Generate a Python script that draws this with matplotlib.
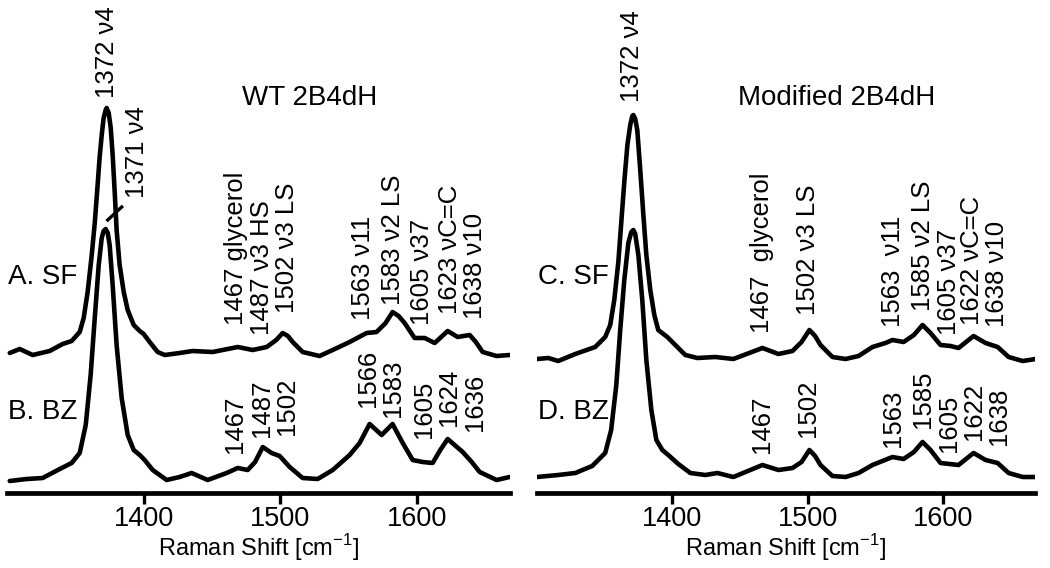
import matplotlib
matplotlib.use("Agg")
import matplotlib.pyplot as plt

plt.rcParams["font.family"] = ["Liberation Sans", "DejaVu Sans"]
plt.rcParams["mathtext.fontset"] = "custom"
plt.rcParams["mathtext.rm"] = "Liberation Sans"

# traced spectra: Raman shift (cm-1) and intensity (a.u., baseline ~0)
wt_sf_shift = [1302.0, 1309.3, 1318.8, 1331.2, 1340.7, 1347.3, 1353.2, 1356.1, 1359.0, 1362.0,
               1364.2, 1366.3, 1367.8, 1369.3, 1370.7, 1372.2, 1372.9, 1374.4, 1375.9, 1377.3,
               1378.8, 1380.2, 1382.4, 1385.4, 1388.3, 1392.7, 1397.1, 1400.0, 1404.4, 1410.2,
               1415.4, 1426.3, 1435.8, 1450.5, 1468.8, 1479.7, 1490.0, 1497.0, 1501.7, 1505.5,
               1509.0, 1516.3, 1528.7, 1538.3, 1550.7, 1563.1, 1570.4, 1577.0, 1582.1, 1586.5,
               1590.9, 1598.2, 1605.6, 1612.9, 1622.4, 1629.7, 1638.5, 1643.0, 1648.0, 1658.2,
               1667.7]
wt_sf_int = [0.02, 0.06, 0.00, 0.04, 0.11, 0.14, 0.23, 0.37, 0.63, 1.00,
             1.32, 1.70, 1.98, 2.20, 2.37, 2.45, 2.47, 2.42, 2.27, 2.00,
             1.63, 1.25, 0.90, 0.63, 0.45, 0.30, 0.24, 0.21, 0.13, 0.03,
             0.00, 0.02, 0.04, 0.03, 0.08, 0.05, 0.08, 0.15, 0.22, 0.19,
             0.13, 0.03, -0.01, 0.05, 0.13, 0.22, 0.23, 0.32, 0.43, 0.39,
             0.32, 0.17, 0.17, 0.12, 0.24, 0.18, 0.20, 0.13, 0.03, -0.01,
             0.00]

wt_bz_shift = [1302.0, 1314.4, 1326.1, 1338.6, 1347.3, 1353.2, 1357.6, 1361.2, 1364.2, 1367.1,
               1369.3, 1370.7, 1372.2, 1373.7, 1375.1, 1377.3, 1380.2, 1383.9, 1388.3, 1392.7,
               1397.1, 1400.7, 1406.6, 1416.8, 1426.3, 1435.1, 1446.8, 1460.7, 1468.8, 1476.1,
               1481.5, 1487.1, 1493.6, 1499.5, 1506.8, 1516.3, 1527.3, 1538.3, 1550.7, 1558.0,
               1565.3, 1574.1, 1582.1, 1589.5, 1596.8, 1604.1, 1611.4, 1617.0, 1622.4, 1633.4,
               1640.0, 1645.8, 1658.2, 1667.7]
wt_bz_int = [-0.01, 0.01, 0.02, 0.11, 0.17, 0.27, 0.55, 1.05, 1.62, 2.15,
             2.42, 2.49, 2.51, 2.47, 2.35, 1.95, 1.35, 0.82, 0.45, 0.30,
             0.25, 0.20, 0.10, 0.00, 0.03, 0.07, 0.00, 0.07, 0.12, 0.10,
             0.18, 0.33, 0.27, 0.24, 0.13, 0.02, 0.01, 0.10, 0.25, 0.37,
             0.56, 0.45, 0.56, 0.37, 0.20, 0.18, 0.17, 0.30, 0.41, 0.28,
             0.18, 0.08, 0.00, 0.03]

mod_sf_shift = [1300.1, 1308.3, 1315.7, 1328.3, 1343.0, 1350.4, 1354.1, 1357.1, 1360.1, 1362.3,
                1364.5, 1366.8, 1368.9, 1370.4, 1371.2, 1372.6, 1374.1, 1376.3, 1378.6, 1380.8,
                1383.7, 1386.7, 1389.6, 1396.3, 1402.2, 1409.6, 1418.5, 1431.8, 1445.1, 1466.6,
                1478.4, 1488.8, 1495.5, 1501.3, 1505.5, 1509.5, 1518.3, 1528.0, 1537.6, 1547.9,
                1557.5, 1562.7, 1570.9, 1578.5, 1584.9, 1590.8, 1598.2, 1605.6, 1611.5, 1622.6,
                1631.5, 1640.4, 1648.5, 1658.9, 1668.5]
mod_sf_int = [-0.04, -0.03, -0.06, 0.01, 0.08, 0.18, 0.30, 0.55, 0.93, 1.33,
              1.73, 2.10, 2.30, 2.39, 2.40, 2.36, 2.25, 1.85, 1.40, 1.00,
              0.65, 0.40, 0.25, 0.18, 0.10, 0.00, -0.03, -0.02, -0.04, 0.07,
              0.01, 0.04, 0.13, 0.25, 0.19, 0.10, -0.02, -0.04, -0.01, 0.08,
              0.12, 0.15, 0.13, 0.20, 0.30, 0.22, 0.10, 0.09, 0.07, 0.19,
              0.12, 0.08, -0.02, -0.06, -0.04]

mod_bz_shift = [1300.1, 1315.7, 1328.3, 1340.8, 1350.4, 1354.8, 1358.6, 1361.5, 1364.5, 1367.5,
                1369.7, 1371.2, 1372.6, 1374.9, 1377.8, 1380.8, 1384.5, 1388.2, 1392.6, 1397.0,
                1404.4, 1413.3, 1424.4, 1433.3, 1445.1, 1466.6, 1478.4, 1488.8, 1495.5, 1501.3,
                1505.5, 1509.5, 1518.3, 1528.0, 1537.6, 1547.9, 1562.7, 1570.9, 1578.5, 1584.9,
                1590.8, 1598.2, 1611.5, 1622.6, 1631.5, 1640.4, 1648.5, 1658.9, 1668.5]
mod_bz_int = [0.03, 0.05, 0.07, 0.14, 0.27, 0.50, 0.95, 1.50, 2.00, 2.37,
              2.48, 2.50, 2.46, 2.25, 1.80, 1.20, 0.70, 0.40, 0.30, 0.25,
              0.16, 0.07, 0.05, 0.07, 0.03, 0.15, 0.10, 0.12, 0.18, 0.30,
              0.24, 0.15, 0.04, 0.03, 0.07, 0.15, 0.23, 0.21, 0.28, 0.38,
              0.30, 0.17, 0.15, 0.27, 0.20, 0.17, 0.07, 0.03, 0.03]

# peak annotations: text and the shift they sit above
wt_sf_labels = ["1467 glycerol", "1487 \u03bd3 HS", "1502 \u03bd3 LS", "1563 \u03bd11",
                "1583 \u03bd2 LS", "1605 \u03bd37", "1623 \u03bdC=C", "1638 \u03bd10"]
wt_sf_label_x = [1467.3, 1486.3, 1504.6, 1560.2, 1582.1, 1603.4, 1623.8, 1642.1]
wt_bz_labels = ["1467", "1487", "1502", "1566", "1583", "1605", "1624", "1636"]
wt_bz_label_x = [1466.6, 1486.3, 1504.6, 1563.9, 1582.1, 1604.8, 1623.1, 1642.1]

mod_sf_labels = ["1467  glycerol", "1502 \u03bd3 LS", "1563  \u03bd11", "1585 \u03bd2 LS",
                 "1605 \u03bd37", "1622 \u03bdC=C", "1638 \u03bd10"]
mod_sf_label_x = [1466.6, 1500.6, 1562.7, 1584.9, 1604.1, 1621.2, 1639.6]
mod_bz_labels = ["1467", "1502", "1563", "1585", "1605", "1622", "1638"]
mod_bz_label_x = [1466.6, 1500.6, 1562.7, 1584.9, 1604.1, 1622.6, 1641.1]

# layout: vertical offsets of the stacked spectra and label heights
SF_OFFSET = 1.38
BZ_OFFSET = 0.13
wt_sf_label_y = [1.68, 1.58, 1.80, 1.73, 1.88, 1.68, 1.79, 1.74]
wt_bz_label_y = [0.40, 0.56, 0.58, 0.86, 0.76, 0.55, 0.67, 0.62]
mod_sf_label_y = [1.60, 1.78, 1.66, 1.82, 1.58, 1.68, 1.66]
mod_bz_label_y = [0.40, 0.56, 0.46, 0.65, 0.41, 0.53, 0.48]

LW = 3.3
ANN_FS = 18.5


def draw_panel(ax, sf, bz, sf_lab, bz_lab, title, names, top_label_x, top_label_y):
    ax.plot(sf[0], [v + SF_OFFSET for v in sf[1]], color="black", lw=LW,
            solid_joinstyle="round", solid_capstyle="round")
    ax.plot(bz[0], [v + BZ_OFFSET for v in bz[1]], color="black", lw=LW,
            solid_joinstyle="round", solid_capstyle="round")

    for texts, xs, ys in (sf_lab, bz_lab):
        for t, x, y in zip(texts, xs, ys):
            ax.text(x, y, t, rotation=90, ha="center", va="bottom", fontsize=ANN_FS)

    ax.text(top_label_x, top_label_y, "1372 \u03bd4", rotation=90, ha="center",
            va="bottom", fontsize=ANN_FS)
    ax.text(1521.4, 3.95, title, ha="center", va="center", fontsize=20)
    ax.text(1301, 2.16, names[0], ha="left", va="center", fontsize=20)
    ax.text(1301, 0.81, names[1], ha="left", va="center", fontsize=20)

    ax.set_xlim(1300, 1668)
    ax.set_ylim(0, 4.93)
    ax.set_xticks([1400, 1500, 1600])
    ax.set_yticks([])
    for side in ("left", "right", "top"):
        ax.spines[side].set_visible(False)
    ax.spines["bottom"].set_linewidth(3.4)
    ax.tick_params(axis="x", direction="out", length=8, width=2.4, labelsize=19.5, pad=1.5)
    ax.set_xlabel("Raman Shift [cm$^{-1}$]", fontsize=17, labelpad=0)
    ax.patch.set_alpha(0)


fig = plt.figure(figsize=(10.5, 5.68), dpi=100)
ax1 = fig.add_axes([7 / 1050, 75 / 568, 503 / 1050, 493 / 568])
ax2 = fig.add_axes([537 / 1050, 75 / 568, 498 / 1050, 493 / 568])

draw_panel(ax1, (wt_sf_shift, wt_sf_int), (wt_bz_shift, wt_bz_int),
           (wt_sf_labels, wt_sf_label_x, wt_sf_label_y),
           (wt_bz_labels, wt_bz_label_x, wt_bz_label_y),
           "WT 2B4dH", ("A. SF", "B. BZ"), 1372.9, 3.95)
draw_panel(ax2, (mod_sf_shift, mod_sf_int), (mod_bz_shift, mod_bz_int),
           (mod_sf_labels, mod_sf_label_x, mod_sf_label_y),
           (mod_bz_labels, mod_bz_label_x, mod_bz_label_y),
           "Modified 2B4dH", ("C. SF", "D. BZ"), 1370.4, 3.91)

# the 1371 v4 label of the BZ spectrum with its leader line
ax1.text(1394.9, 2.95, "1371 \u03bd4", rotation=90, ha="center", va="bottom", fontsize=ANN_FS)
ax1.plot([1373.7, 1383.9], [2.73, 2.86], color="black", lw=2.4)

fig.savefig("out.png", dpi=100)
plt.close(fig)
